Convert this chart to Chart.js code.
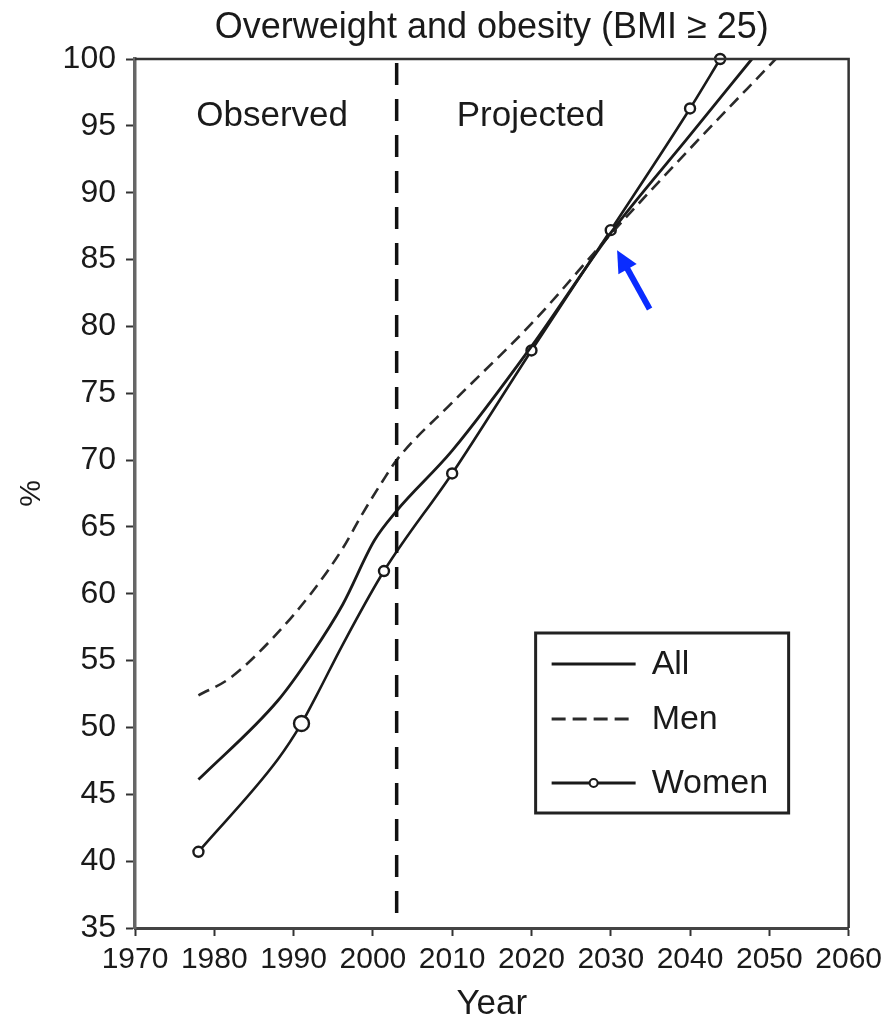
<!DOCTYPE html>
<html lang="en">
<head>
<meta charset="UTF-8">
<title>Overweight and obesity (BMI ≥ 25)</title>
<script src="https://cdn.jsdelivr.net/npm/chart.js@4.4.1/dist/chart.umd.min.js"></script>
<style>
  body { margin: 0; background: #fff; }
  canvas { display: block; }
</style>
</head>
<body>
<canvas id="grafico" width="888" height="1025"></canvas>
<script>
//DATOS DEL GRAFICO
const aniosTodos = [1978, 1988, 1992.3, 1996.2, 2000.2, 2003, 2010, 2020, 2030, 2040, 2047.8];
const valoresTodos = [46.1, 52.0, 55.5, 59.2, 64.0, 66.2, 70.7, 78.5, 87.0, 94.3, 100];

const aniosHombres = [1978, 1982, 1987.4, 1992.3, 1996.2, 1998.7, 2001.2, 2003, 2010, 2020, 2030, 2040, 2050.8];
const valoresHombres = [52.4, 53.7, 56.7, 60.1, 63.4, 66.0, 68.4, 70.0, 74.3, 80.2, 86.9, 93.3, 100];

const aniosMujeres = [1978, 1988, 1991, 1992.9, 1996.2, 2001.4, 2010, 2020, 2030, 2040, 2043.8];
const valoresMujeres = [40.7, 47.6, 50.3, 52.4, 56.2, 61.7, 69.0, 78.2, 87.2, 96.3, 100];

const ticksAnios = [1970, 1980, 1990, 2000, 2010, 2020, 2030, 2040, 2050, 2060];
const ticksPorcentaje = [35, 40, 45, 50, 55, 60, 65, 70, 75, 80, 85, 90, 95, 100];

const titulo = "Overweight and obesity (BMI ≥ 25)";
const etiquetasSeries = ["All", "Men", "Women"];
const etiquetasPeriodo = ["Observed", "Projected"];
const anioCorte = 2003;

//ANOTACIONES EN COORDENADAS DEL GRAFICO
const anclasPeriodo = [[1987.3, 95.7], [2019.9, 95.7]];
const flecha = { desde: [2034.9, 81.3], hasta: [2030.8, 85.7] };

const fuente = "'Liberation Sans', Arial, Helvetica, sans-serif";
const tinta = "#1a1a1a";

const unirPuntos = (anios, valores) => anios.map((anio, i) => ({ x: anio, y: valores[i] }));

//PLUGIN PARA TITULO, MARCO, LINEA DE CORTE, TEXTOS, FLECHA Y LEYENDA
const extras = {
  id: "extras",
  afterDraw(chart) {
    const { ctx, chartArea: area, scales } = chart;
    const px = (v) => scales.x.getPixelForValue(v);
    const py = (v) => scales.y.getPixelForValue(v);

    ctx.save();
    //TITULO CENTRADO SOBRE EL AREA
    ctx.fillStyle = tinta;
    ctx.font = `36px ${fuente}`;
    ctx.textAlign = "center";
    ctx.textBaseline = "middle";
    ctx.fillText(titulo, (area.left + area.right) / 2, area.top - 31);

    //MARCO SUPERIOR Y DERECHO
    ctx.strokeStyle = "#333";
    ctx.lineWidth = 2.5;
    ctx.beginPath();
    ctx.moveTo(area.left, area.top);
    ctx.lineTo(area.right, area.top);
    ctx.lineTo(area.right, area.bottom);
    ctx.stroke();

    //LINEA VERTICAL OBSERVADO / PROYECTADO
    ctx.strokeStyle = "#111";
    ctx.lineWidth = 3.5;
    ctx.setLineDash([22, 14]);
    ctx.beginPath();
    ctx.moveTo(px(anioCorte), area.top + 4);
    ctx.lineTo(px(anioCorte), area.bottom - 6);
    ctx.stroke();
    ctx.setLineDash([]);

    //TEXTOS DE PERIODO
    ctx.font = `35px ${fuente}`;
    etiquetasPeriodo.forEach((texto, i) => {
      ctx.fillText(texto, px(anclasPeriodo[i][0]), py(anclasPeriodo[i][1]));
    });

    //FLECHA AZUL
    const x0 = px(flecha.desde[0]), y0 = py(flecha.desde[1]);
    const x1 = px(flecha.hasta[0]), y1 = py(flecha.hasta[1]);
    const ang = Math.atan2(y1 - y0, x1 - x0);
    const largoPunta = 24;
    ctx.strokeStyle = "#0a2cff";
    ctx.fillStyle = "#0a2cff";
    ctx.lineWidth = 6;
    ctx.beginPath();
    ctx.moveTo(x0, y0);
    ctx.lineTo(x1 - Math.cos(ang) * largoPunta * 0.8, y1 - Math.sin(ang) * largoPunta * 0.8);
    ctx.stroke();
    ctx.beginPath();
    ctx.moveTo(x1, y1);
    ctx.lineTo(x1 - Math.cos(ang - 0.45) * largoPunta, y1 - Math.sin(ang - 0.45) * largoPunta);
    ctx.lineTo(x1 - Math.cos(ang + 0.45) * largoPunta, y1 - Math.sin(ang + 0.45) * largoPunta);
    ctx.closePath();
    ctx.fill();

    //LEYENDA DENTRO DEL AREA
    const caja = { x: area.right - 313, y: area.bottom - 295, w: 253, h: 180 };
    ctx.strokeStyle = "#222";
    ctx.lineWidth = 3;
    ctx.strokeRect(caja.x, caja.y, caja.w, caja.h);
    const filas = [31, 86, 150];
    ctx.textAlign = "left";
    chart.data.datasets.forEach((ds, i) => {
      const yy = caja.y + filas[i];
      ctx.strokeStyle = ds.borderColor;
      ctx.lineWidth = 3;
      ctx.setLineDash(ds.borderDash ? [14, 7] : []);
      ctx.beginPath();
      ctx.moveTo(caja.x + 16, yy);
      ctx.lineTo(caja.x + 100, yy);
      ctx.stroke();
      ctx.setLineDash([]);
      if (i === 2) {
        ctx.fillStyle = "#fff";
        ctx.lineWidth = 2;
        ctx.beginPath();
        ctx.arc(caja.x + 58, yy, 4, 0, Math.PI * 2);
        ctx.fill();
        ctx.stroke();
      }
      ctx.fillStyle = tinta;
      ctx.font = `34px ${fuente}`;
      ctx.fillText(etiquetasSeries[i], caja.x + 116, yy + 1);
    });
    ctx.restore();
  },
};

new Chart(document.getElementById("grafico"), {
  type: "line",
  data: {
    datasets: [
      {
        label: etiquetasSeries[0],
        data: unirPuntos(aniosTodos, valoresTodos),
        borderColor: "#1a1a1a",
        borderWidth: 2.8,
        pointRadius: 0,
        tension: 0.3,
        cubicInterpolationMode: "monotone",
        clip: false,
      },
      {
        label: etiquetasSeries[1],
        data: unirPuntos(aniosHombres, valoresHombres),
        borderColor: "#2a2a2a",
        borderWidth: 2.6,
        borderDash: [12, 7],
        pointRadius: 0,
        tension: 0.3,
        cubicInterpolationMode: "monotone",
        clip: false,
      },
      {
        label: etiquetasSeries[2],
        data: unirPuntos(aniosMujeres, valoresMujeres),
        borderColor: "#1a1a1a",
        borderWidth: 2.6,
        pointRadius: [5, 0, 7.5, 0, 0, 5, 5, 5, 5, 5, 5],
        pointBackgroundColor: "#fff",
        pointBorderColor: "#1a1a1a",
        pointBorderWidth: 2.4,
        tension: 0.3,
        cubicInterpolationMode: "monotone",
        clip: false,
      },
    ],
  },
  options: {
    responsive: false,
    animation: false,
    events: [],
    layout: { padding: { top: 59, right: 38, bottom: 0, left: 0 } },
    plugins: {
      legend: { display: false },
      tooltip: { enabled: false },
      title: { display: false },
    },
    scales: {
      x: {
        type: "linear",
        min: 1970,
        max: 2060,
        afterBuildTicks: (escala) => {
          escala.ticks = ticksAnios.map((v) => ({ value: v }));
        },
        afterFit: (escala) => {
          escala.height = 97;
        },
        ticks: {
          color: tinta,
          font: { family: fuente, size: 30 },
          padding: 6,
          maxRotation: 0,
          autoSkip: false,
          callback: (v) => String(v),
        },
        grid: { drawOnChartArea: false, drawTicks: true, tickLength: 8, tickColor: "#333", tickWidth: 2 },
        border: { display: true, color: "#444", width: 3 },
        title: {
          display: true,
          text: "Year",
          color: tinta,
          font: { family: fuente, size: 35 },
          padding: { top: 0, bottom: 0 },
        },
      },
      y: {
        min: 35,
        max: 100,
        afterBuildTicks: (escala) => {
          escala.ticks = ticksPorcentaje.map((v) => ({ value: v }));
        },
        afterFit: (escala) => {
          escala.width = 135;
        },
        ticks: {
          color: tinta,
          font: { family: fuente, size: 32 },
          padding: 10,
          autoSkip: false,
        },
        grid: { drawOnChartArea: false, drawTicks: true, tickLength: 9, tickColor: "#333", tickWidth: 2 },
        border: { display: true, color: "#666", width: 3.5 },
        title: {
          display: true,
          text: "%",
          color: tinta,
          font: { family: fuente, size: 30 },
          padding: { top: 14, bottom: 0 },
        },
      },
    },
  },
  plugins: [extras],
});
</script>
</body>
</html>
